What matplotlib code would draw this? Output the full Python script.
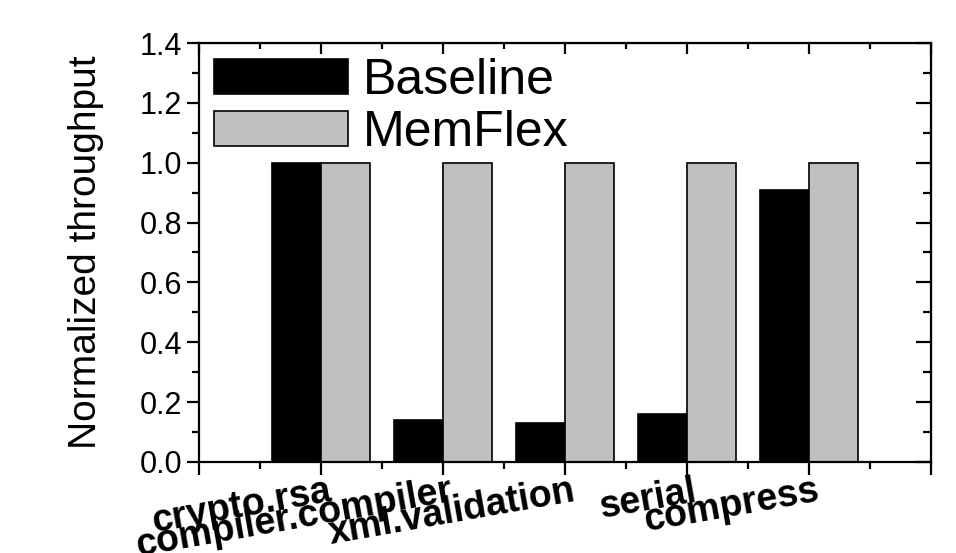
# Normalized throughput: Baseline vs MemFlex
import numpy as np
import matplotlib
matplotlib.use('Agg')
import matplotlib.pyplot as plt
from matplotlib.patches import Patch
from matplotlib.transforms import ScaledTranslation

# Data
categories = ['crypto.rsa', 'compiler.compiler', 'xml.validation', 'serial', 'compress']
baseline = [1.0, 0.14, 0.13, 0.16, 0.91]
memflex = [1.0, 1.0, 1.0, 1.0, 1.0]

plt.rcParams['font.family'] = ['Liberation Sans', 'DejaVu Sans']

fig = plt.figure(figsize=(9.56, 5.53), dpi=100)
ax = fig.add_axes([0.2082, 0.1646, 0.7656, 0.7576])

pos = np.arange(1, len(categories) + 1)
barW = 0.4
ax.bar(pos - barW / 2, baseline, barW, color='black', edgecolor='black', linewidth=1.2)
ax.bar(pos + barW / 2, memflex, barW, color='#c0c0c0', edgecolor='black', linewidth=1.2)

# Axes ranges and ticks
ax.set_xlim(0, len(categories) + 1)
ax.set_ylim(0, 1.4)
ax.set_xticks(np.arange(0, len(categories) + 2))
ax.set_xticks(np.arange(0.5, len(categories) + 1, 1.0), minor=True)
ax.set_xticklabels([''] + categories + [''], fontsize=27, fontweight='bold', rotation=10, ha='right', va='top')
ax.set_yticks(np.arange(0, 1.41, 0.2))
ax.set_yticks(np.arange(0.1, 1.4, 0.2), minor=True)
ax.set_yticklabels(['{:.1f}'.format(v) for v in np.arange(0, 1.41, 0.2)], fontsize=22)

for side in ['left', 'right', 'top', 'bottom']:
    ax.spines[side].set_linewidth(1.6)

ax.tick_params(axis='both', which='major', direction='out', length=9, width=1.6)
ax.tick_params(axis='both', which='minor', direction='out', length=5, width=1.6)
ax.tick_params(axis='x', which='major', pad=-1)
ax.tick_params(axis='y', which='major', pad=3)

# Mirrored inward ticks on top and right
axT = ax.secondary_xaxis('top')
axT.set_xticks(ax.get_xticks())
axT.set_xticks(ax.get_xticks(minor=True), minor=True)
axT.set_xticklabels([])
axT.tick_params(which='major', direction='in', length=8, width=1.6)
axT.tick_params(which='minor', direction='in', length=4, width=1.6)
axR = ax.secondary_yaxis('right')
axR.set_yticks(ax.get_yticks())
axR.set_yticks(ax.get_yticks(minor=True), minor=True)
axR.set_yticklabels([])
axR.tick_params(which='major', direction='in', length=11, width=1.6)
axR.tick_params(which='minor', direction='in', length=6, width=1.6)

# Shift rotated category labels a bit to the right of their ticks
for lab in ax.get_xticklabels():
    lab.set_transform(lab.get_transform() + ScaledTranslation(0.13, 0, fig.dpi_scale_trans))

ax.set_ylabel('Normalized throughput', fontsize=28, labelpad=26)

handles = [Patch(facecolor='black', edgecolor='black', linewidth=1.2, label='Baseline'),
           Patch(facecolor='#c0c0c0', edgecolor='black', linewidth=1.2, label='MemFlex')]
ax.legend(handles=handles, loc='upper left', frameon=False, fontsize=36,
          handlelength=2.68, handleheight=0.72, handletextpad=0.3,
          labelspacing=0.12, borderaxespad=0.05, borderpad=0.25)

fig.savefig('out.png', dpi=100)
